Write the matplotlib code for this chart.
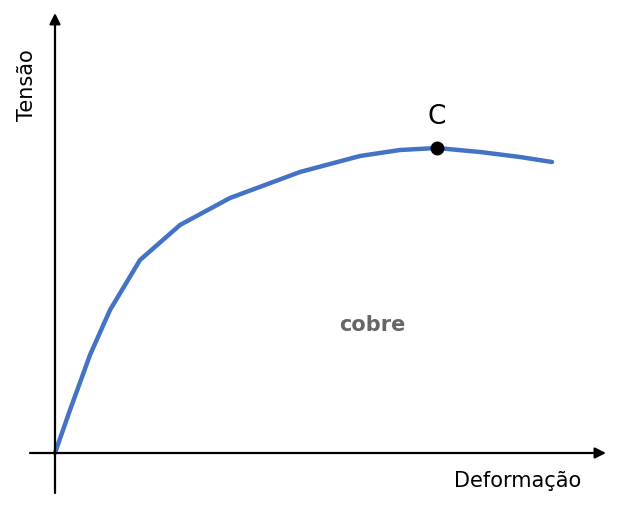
import numpy as np
import matplotlib.pyplot as plt

# curve (deformação, tensão), arbitrary units
deformacao = [0, 15, 35, 55, 85, 125, 175, 245, 305, 345, 382, 425, 465, 497]
tensao = [0, 43, 98, 143, 193, 228, 255, 281, 297, 303, 305, 301, 296, 291]
ponto_c = (382, 305)

fig = plt.figure(figsize=(6.2, 5.15), dpi=100)
ax = fig.add_axes([0, 0, 1, 1])
ax.set_xlim(-55, 565)
ax.set_ylim(-62, 453)
ax.axis('off')

ax.plot(deformacao, tensao, color='#4472c4', lw=3.2, solid_capstyle='round')
ax.plot(*ponto_c, 'o', color='black', ms=9)
ax.text(ponto_c[0], ponto_c[1] + 18, 'C', fontsize=19, ha='center', va='bottom')
ax.text(317, 128, 'cobre', fontsize=15, fontweight='bold', color='#666666', ha='center', va='center')

arrow = dict(arrowstyle='-|>', color='black', lw=1.6, mutation_scale=16, shrinkA=0, shrinkB=0)
ax.annotate('', xy=(551, 0), xytext=(-25, 0), arrowprops=arrow)
ax.annotate('', xy=(0, 440), xytext=(0, -40), arrowprops=arrow)

ax.text(463, -28, 'Deformação', fontsize=15, ha='center', va='center')
ax.text(-28, 368, 'Tensão', fontsize=15, ha='center', va='center', rotation=90)

fig.savefig('out.png', dpi=100)
